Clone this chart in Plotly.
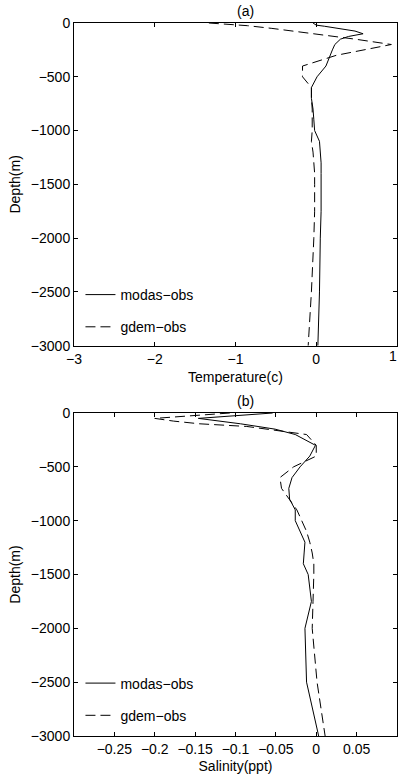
import plotly.graph_objects as go

# ---- Data ----
temp_depth = [0, 10, 20, 30, 50, 75, 100, 125, 150, 200, 250, 300, 400, 500, 600, 700,
              800, 900, 1000, 1100, 1200, 1300, 1400, 1500, 1750, 2000, 2500, 3000]
temp_modas = [-0.04, -0.02, 0.0, 0.10, 0.30, 0.48, 0.58, 0.40, 0.30, 0.23, 0.20, 0.17, 0.12,
              0.01, -0.06, -0.06, -0.04, -0.03, -0.02, 0.04, 0.05, 0.06, 0.06, 0.06, 0.06,
              0.05, 0.04, 0.02]
temp_gdem_depth = [0, 25, 50, 65, 75, 100, 125, 150, 200, 250, 300, 400, 500, 600, 700,
                   800, 900, 1000, 1100, 1200, 1300, 1400, 1500, 1750, 2000, 2500, 3000]
temp_gdem = [-1.33, -0.85, -0.55, -0.39, -0.30, -0.05, 0.20, 0.48, 0.93, 0.60, 0.25, -0.17,
             -0.17, -0.06, -0.06, -0.05, -0.05, -0.05, -0.06, -0.04, -0.03, -0.02, -0.02,
             -0.02, -0.03, -0.06, -0.10]

sal_depth = [0, 50, 100, 150, 200, 250, 300, 400, 500, 600, 700, 800, 900, 1000, 1100,
             1200, 1300, 1400, 1500, 1750, 2000, 2500, 3000]
sal_modas = [-0.054, -0.146, -0.094, -0.051, -0.026, -0.013, -0.001, -0.008, -0.020, -0.030,
             -0.034, -0.033, -0.026, -0.026, -0.020, -0.014, -0.015, -0.016, -0.010, -0.006,
             -0.014, -0.012, 0.003]
sal_gdem_depth = [0, 50, 75, 100, 125, 150, 200, 300, 400, 500, 600, 700, 800, 900, 1000,
                  1100, 1200, 1300, 1400, 1500, 1750, 2000, 2500, 3000]
sal_gdem = [-0.107, -0.200, -0.177, -0.145, -0.086, -0.063, -0.012, 0.000, 0.000, -0.028,
            -0.045, -0.043, -0.033, -0.024, -0.018, -0.012, -0.008, -0.005, -0.003, -0.003,
            -0.004, -0.005, 0.001, 0.011]

temp_ticks = [-3, -2, -1, 0, 1]
temp_ticktext = ["\u22123", "\u22122", "\u22121", "0", ""]   # "1" drawn as edge label below
temp_edge_label = "1"
sal_ticks = [-0.25, -0.2, -0.15, -0.1, -0.05, 0, 0.05]
sal_ticktext = ["\u22120.25", "\u22120.2", "\u22120.15", "\u22120.1", "\u22120.05", "0", "0.05"]
depth_ticks = [0, -500, -1000, -1500, -2000, -2500, -3000]

FONT = "Liberation Sans, Arial, Helvetica, sans-serif"
solid = dict(color="black", width=1)
dashed = dict(color="black", width=1, dash="10px,5px")

fig = go.Figure()
fig.add_trace(go.Scatter(x=temp_modas, y=[-d for d in temp_depth], mode="lines", line=solid,
                         name="modas\u2212obs", xaxis="x", yaxis="y", legend="legend",
                         legendgroup="a1"))
fig.add_trace(go.Scatter(x=temp_gdem, y=[-d for d in temp_gdem_depth], mode="lines", line=dashed,
                         name="gdem\u2212obs", xaxis="x", yaxis="y", legend="legend",
                         legendgroup="a2"))
fig.add_trace(go.Scatter(x=sal_modas, y=[-d for d in sal_depth], mode="lines", line=solid,
                         name="modas\u2212obs", xaxis="x2", yaxis="y2", legend="legend2",
                         legendgroup="b1"))
fig.add_trace(go.Scatter(x=sal_gdem, y=[-d for d in sal_gdem_depth], mode="lines", line=dashed,
                         name="gdem\u2212obs", xaxis="x2", yaxis="y2", legend="legend2",
                         legendgroup="b2"))

axis_common = dict(showline=True, linecolor="black", linewidth=1, mirror="ticks",
                   ticks="inside", ticklen=4, tickcolor="black", showgrid=False,
                   zeroline=False, automargin=False,
                   tickfont=dict(family=FONT, size=14, color="black"))

H = 713.0
W = 323.0
top_dom = [1 - (346 - 23.3) / H, 1]
bot_dom = [0, 1 - (413.3 - 23.3) / H]

leg_common = dict(font=dict(family=FONT, size=14, color="black"), bgcolor="rgba(0,0,0,0)",
                  borderwidth=0, traceorder="grouped", tracegroupgap=11,
                  xanchor="left", yanchor="top", itemwidth=30)

fig.update_layout(
    width=398, height=780,
    margin=dict(l=74, r=1, t=23, b=44, pad=0, autoexpand=False),
    plot_bgcolor="white", paper_bgcolor="white",
    font=dict(family=FONT, size=14, color="black"),
    showlegend=True,
    xaxis=dict(domain=[0, 1], range=[-3, 1], anchor="y", tickvals=temp_ticks,
               ticktext=temp_ticktext,
               title=dict(text="Temperature(c)", standoff=6,
                          font=dict(family=FONT, size=14)), **axis_common),
    yaxis=dict(domain=top_dom, range=[-3000, 0], anchor="x", tickvals=depth_ticks,
               title=dict(text="Depth(m)", standoff=6,
                          font=dict(family=FONT, size=14)), **axis_common),
    xaxis2=dict(domain=[0, 1], range=[-0.3, 0.1], anchor="y2", tickvals=sal_ticks,
                ticktext=sal_ticktext,
                title=dict(text="Salinity(ppt)", standoff=5,
                           font=dict(family=FONT, size=14)), **axis_common),
    yaxis2=dict(domain=bot_dom, range=[-3000, 0], anchor="x2", tickvals=depth_ticks,
                title=dict(text="Depth(m)", standoff=6,
                           font=dict(family=FONT, size=14)), **axis_common),
    legend=dict(x=0.02, y=(736 - 279) / H, **leg_common),
    legend2=dict(x=0.02, y=(736 - 667.5) / H, **leg_common),
    annotations=[
        dict(text="(a)", x=(245 - 74) / W, y=1, xref="paper", yref="paper",
             xanchor="center", yanchor="bottom", yshift=2, showarrow=False,
             font=dict(family=FONT, size=14)),
        dict(text="(b)", x=(245 - 74) / W, y=bot_dom[1], xref="paper", yref="paper",
             xanchor="center", yanchor="bottom", yshift=2, showarrow=False,
             font=dict(family=FONT, size=14)),
        dict(text=temp_edge_label, x=1 + 1.0 / W, y=top_dom[0], xref="paper", yref="paper",
             xanchor="right", yanchor="top", yshift=-1, showarrow=False, borderpad=0,
             font=dict(family=FONT, size=14, color="black")),
    ],
)

fig.write_html("out.html")
